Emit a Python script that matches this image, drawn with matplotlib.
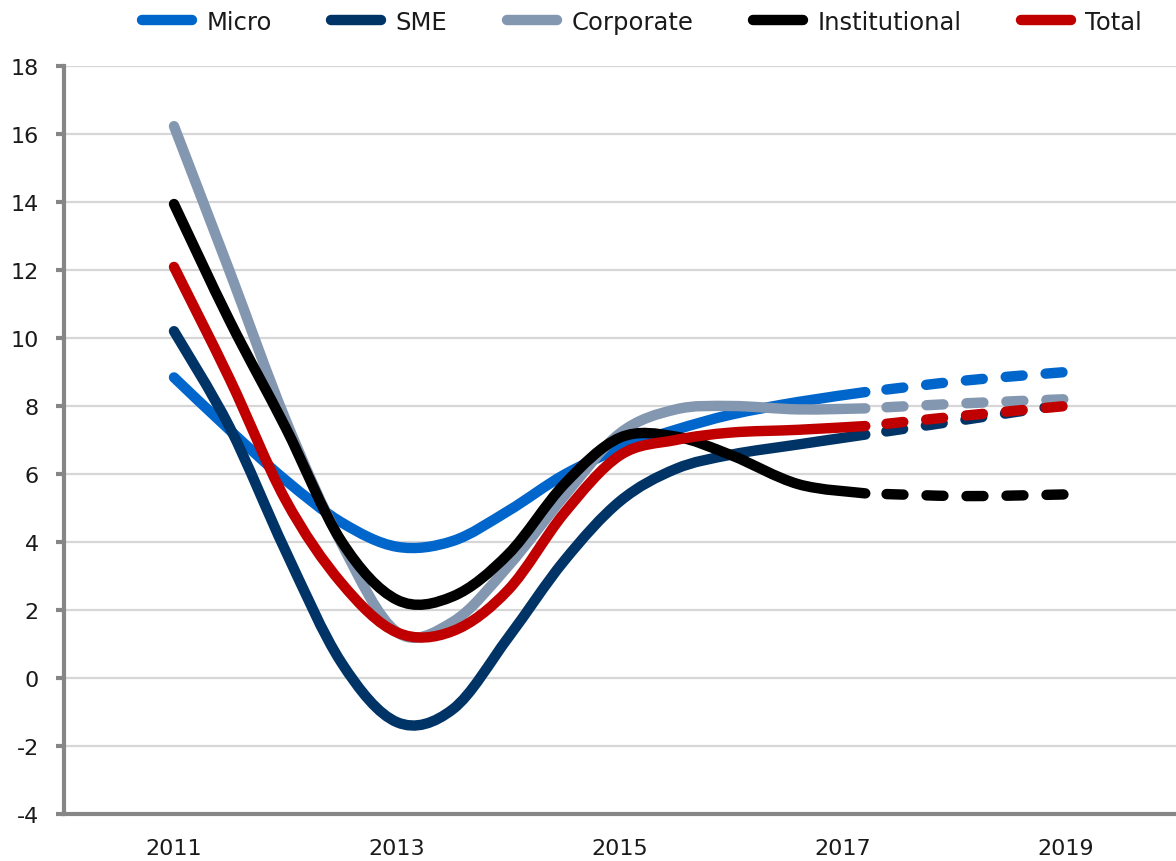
import numpy as np
import matplotlib
matplotlib.use("Agg")
import matplotlib.pyplot as plt
from matplotlib.path import Path
from matplotlib.patches import PathPatch
from matplotlib.lines import Line2D

plt.rcParams['font.family'] = ['DejaVu Sans']
plt.rcParams['lines.scale_dashes'] = False
plt.rcParams['axes.unicode_minus'] = False

# ---------------- data ----------------
years_actual = [2011.0, 2011.5, 2012.0, 2012.5, 2013.0, 2013.5, 2014.0,
                2014.5, 2015.0, 2015.5, 2016.0, 2016.6, 2017.2]
micro = [8.84, 7.29, 5.82, 4.58, 3.86, 4.03, 4.92, 5.98, 6.75, 7.3, 7.75, 8.12, 8.41]
sme = [10.2, 7.37, 3.74, 0.46, -1.3, -0.92, 1.2, 3.45, 5.2, 6.15, 6.57, 6.87, 7.16]
corporate = [16.23, 11.95, 7.6, 3.97, 1.35, 1.65, 3.3, 5.35, 7.2, 7.9, 8.0, 7.9, 7.93]
institutional = [13.94, 10.5, 7.37, 4.03, 2.3, 2.4, 3.65, 5.7, 7.07, 7.1, 6.55, 5.7, 5.43]
total = [12.09, 8.79, 5.24, 2.8, 1.34, 1.38, 2.6, 4.85, 6.55, 7.0, 7.22, 7.3, 7.41]

years_forecast = [2017.2, 2018.1, 2019.0]
micro_f = [8.41, 8.75, 9.0]
sme_f = [7.16, 7.6, 8.05]
corporate_f = [7.93, 8.08, 8.2]
institutional_f = [5.43, 5.35, 5.4]
total_f = [7.41, 7.72, 8.0]

series_names = ["Micro", "SME", "Corporate", "Institutional", "Total"]
colors = ["#0066CC", "#003366", "#8497B0", "#000000", "#C00000"]
actual = [micro, sme, corporate, institutional, total]
forecast = [micro_f, sme_f, corporate_f, institutional_f, total_f]
xtick_labels = ["2011", "2013", "2015", "2017", "2019"]
xtick_pos = [2011, 2013, 2015, 2017, 2019]
yticks = list(range(-4, 19, 2))


def smooth_path(xs, ys):
    """Excel-like smoothed line: Catmull-Rom segments as cubic Bezier curves."""
    pts = np.column_stack([xs, ys]).astype(float)
    ext = np.vstack([pts[0], pts, pts[-1]])
    verts = [pts[0]]
    codes = [Path.MOVETO]
    for i in range(len(pts) - 1):
        p0, p1, p2, p3 = ext[i], ext[i + 1], ext[i + 2], ext[i + 3]
        c1 = p1 + (p2 - p0) / 6.0
        c2 = p2 - (p3 - p1) / 6.0
        verts += [c1, c2, p2]
        codes += [Path.CURVE4] * 3
    return Path(verts, codes)


W, H = 1176, 862
fig = plt.figure(figsize=(W / 100, H / 100), dpi=100)
ax_left, ax_right, ax_top, ax_bot = 64, 1176, 67, 815
ax = fig.add_axes([ax_left / W, 1 - ax_bot / H, (ax_right - ax_left) / W, (ax_bot - ax_top) / H])

px_per_year = 111.5
ax.set_xlim(2011 - (174 - ax_left) / px_per_year, 2011 + (ax_right - 174) / px_per_year)
ax.set_ylim(-4, 18)

LW = 7.5
for name, col, ys in zip(series_names, colors, actual):
    p = PathPatch(smooth_path(years_actual, ys), fill=False, edgecolor=col,
                  linewidth=LW, capstyle='round', joinstyle='round', zorder=3)
    ax.add_patch(p)

for name, col, ys in zip(series_names, colors, forecast):
    p = PathPatch(smooth_path(years_forecast, ys), fill=False, edgecolor=col,
                  linewidth=LW, capstyle='round', joinstyle='round',
                  linestyle=(13.5, (12.2, 16.6)), zorder=3)
    ax.add_patch(p)

ax.set_yticks(yticks)
ax.set_xticks(xtick_pos)
ax.set_xticklabels(xtick_labels)
ax.yaxis.grid(True, color="#D6D6D6", linewidth=1.6, zorder=0)
ax.set_axisbelow(True)
for s in ["top", "right"]:
    ax.spines[s].set_visible(False)
for s in ["left", "bottom"]:
    ax.spines[s].set_color("#868686")
    ax.spines[s].set_linewidth(3)
    ax.spines[s].set_zorder(2)
ax.tick_params(axis="y", length=6, width=3, color="#868686", pad=12,
               labelsize=16, labelcolor="#1a1a1a")
ax.tick_params(axis="x", length=0, pad=17, labelsize=16, labelcolor="#1a1a1a")

handles = [Line2D([], [], color=c, lw=LW, solid_capstyle='round') for c in colors]
fig.legend(handles, series_names, loc="center", bbox_to_anchor=(642 / W, 1 - 23 / H),
           ncol=5, frameon=False, fontsize=17.5, handlelength=2.05,
           handletextpad=0.6, columnspacing=2.45, labelcolor="#1a1a1a")

fig.savefig("out.png", dpi=100)
